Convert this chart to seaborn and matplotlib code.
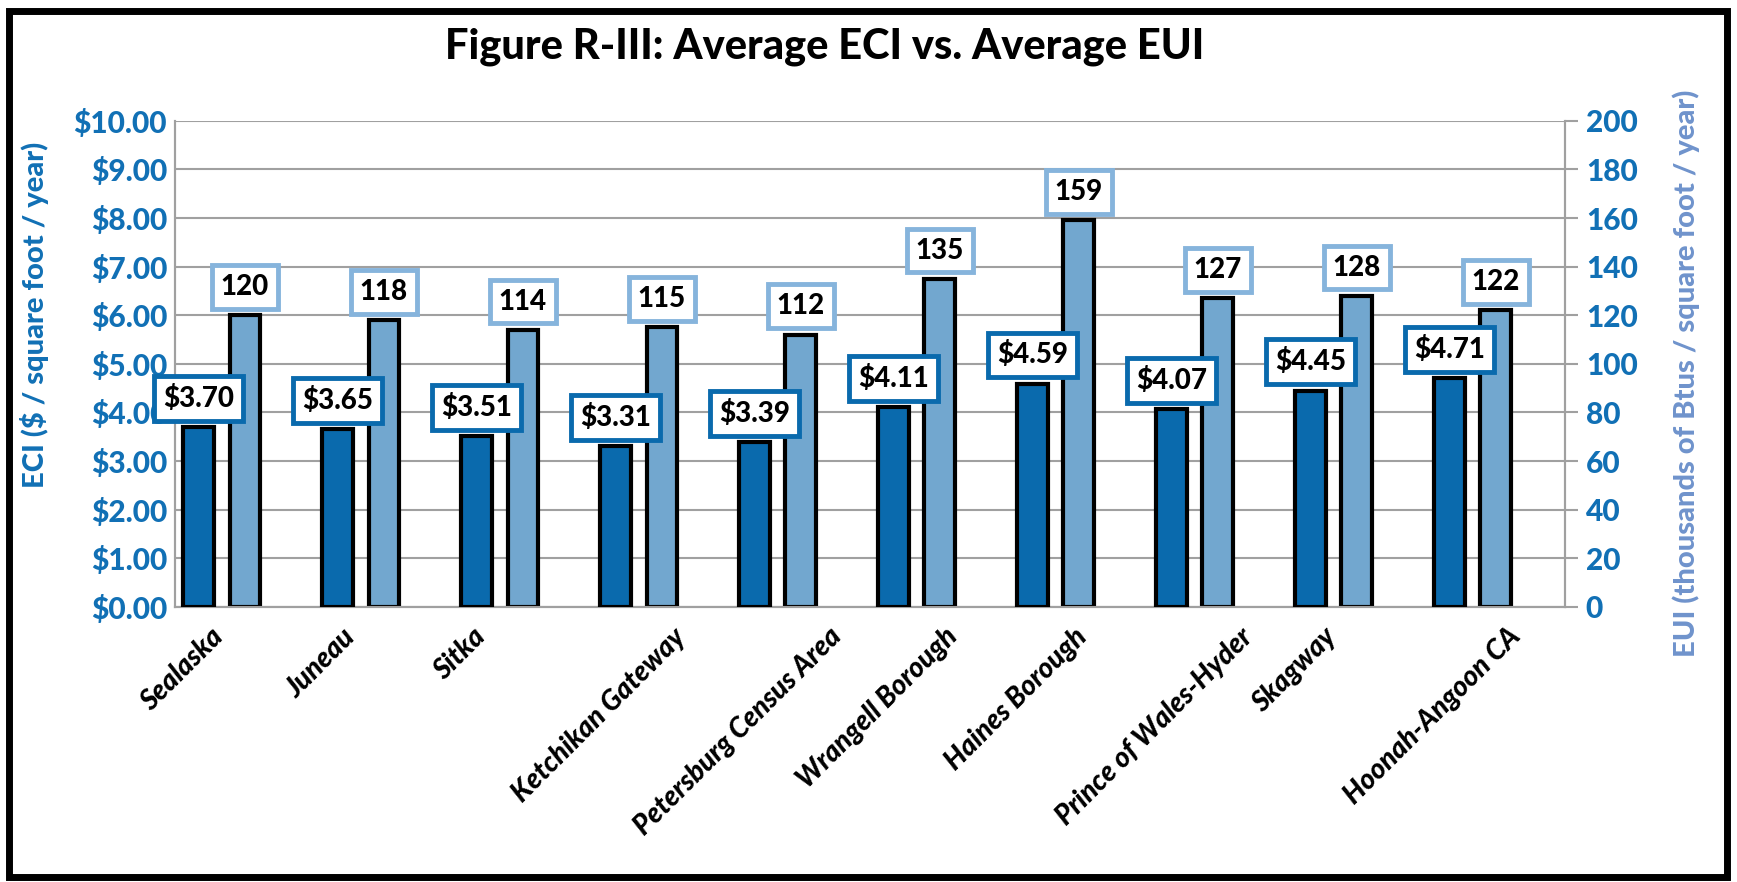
import numpy as np
import pandas as pd
import matplotlib
matplotlib.use("Agg")
import matplotlib.pyplot as plt
import seaborn as sns
from matplotlib.patches import Rectangle

# -----------------------
# Data
# -----------------------
areas = ["Sealaska", "Juneau", "Sitka", "Ketchikan Gateway", "Petersburg Census Area",
         "Wrangell Borough", "Haines Borough", "Prince of Wales-Hyder", "Skagway",
         "Hoonah-Angoon CA"]
eci = [3.70, 3.65, 3.51, 3.31, 3.39, 4.11, 4.59, 4.07, 4.45, 4.71]
eui = [120, 118, 114, 115, 112, 135, 159, 127, 128, 122]
eci_ticks = [0, 1, 2, 3, 4, 5, 6, 7, 8, 9, 10]
eui_ticks = [0, 20, 40, 60, 80, 100, 120, 140, 160, 180, 200]

dark_blue = "#0a6aad"
light_blue = "#72a7cf"
eci_text = "#1170b5"
eui_text = "#6f93cc"
hue_levels = ["ECI", "EUI", "blank"]
palette = {"ECI": dark_blue, "EUI": light_blue, "blank": "white"}

df_eci = pd.DataFrame({"area": areas, "value": eci, "series": "ECI"})
df_eui = pd.DataFrame({"area": areas, "value": eui, "series": "EUI"})


def full_container(ax):
    # seaborn may leave empty containers for hue levels with no data
    for c in ax.containers:
        if len(c) and all(p is not None for p in c):
            return c


sns.set_style("white")
plt.rcParams["font.family"] = "Lato"
plt.rcParams["text.color"] = "black"
W = 900  # heavy weight, closer to the bold Calibri look

fig = plt.figure(figsize=(17.37, 8.82), dpi=100)
ax1 = fig.add_axes([0.101, 0.312, 0.80, 0.551])   # ECI, left axis (drawn on top)
ax2 = ax1.twinx()                                  # EUI, right axis (drawn below)
ax1.set_zorder(ax2.get_zorder() + 1)
ax1.patch.set_visible(False)
ax2.patch.set_visible(True)
ax2.patch.set_facecolor("white")

sns.barplot(data=df_eci, x="area", y="value", hue="series", hue_order=hue_levels,
            palette=palette, saturation=1, dodge=True, width=1.0, gap=0.34,
            edgecolor="black", linewidth=3, legend=False, ax=ax1, zorder=3)
sns.barplot(data=df_eui, x="area", y="value", hue="series", hue_order=hue_levels,
            palette=palette, saturation=1, dodge=True, width=1.0, gap=0.34,
            edgecolor="black", linewidth=3, legend=False, ax=ax2, zorder=3)

# axes limits / ticks
ax1.set_ylim(0, 10)
ax2.set_ylim(0, 200)
ax1.set_xlim(-0.5, len(areas) - 0.5)
ax1.set_yticks(eci_ticks)
ax1.set_yticklabels([f"${v:.2f}" for v in eci_ticks], color=eci_text,
                    fontsize=21.5, fontweight=W)
ax2.set_yticks(eui_ticks)
ax2.set_yticklabels([str(v) for v in eui_ticks], color=eci_text,
                    fontsize=21.5, fontweight=W)

ax1.set_xticks(np.arange(len(areas)) - 0.45)
ax1.set_xticklabels(areas, rotation=45, ha="center", va="top", color="black",
                    fontsize=20, fontweight=W, style="italic")
ax1.tick_params(axis="x", length=0, pad=12)
ax1.tick_params(axis="y", length=0, pad=6)
ax2.tick_params(axis="y", length=9, width=1.5, color="#a0a0a0", pad=6)
ax2.tick_params(axis="x", length=0, labelbottom=False)

ax1.set_xlabel("")
ax2.set_xlabel("")
ax1.set_ylabel("ECI ($ / square foot / year)", color=eci_text, fontsize=21,
               fontweight=W)
ax2.set_ylabel("EUI (thousands of Btus / square foot / year)", color=eui_text,
               fontsize=21, fontweight=W)
ax1.yaxis.set_label_coords(-0.091, 0.60)
ax2.yaxis.set_label_coords(1.077, 0.48)

# gridlines live on the lower axes so they stay under the bars
ax2.grid(axis="y", color="#a0a0a0", linewidth=1.5)
ax2.grid(axis="x", visible=False)
ax2.set_axisbelow(True)
ax1.grid(False)
for ax in (ax1, ax2):
    ax.spines["top"].set_visible(False)
    for s in ("left", "right", "bottom"):
        ax.spines[s].set_color("#a0a0a0")
        ax.spines[s].set_linewidth(1.5)

# value labels
ax1.bar_label(full_container(ax1), labels=[f"${v:.2f}" for v in eci], padding=11,
              fontsize=20, fontweight=W, color="black",
              bbox=dict(boxstyle="square,pad=0.32", fc="white", ec=dark_blue, lw=3.5))
ax2.bar_label(full_container(ax2), labels=[str(v) for v in eui], padding=11,
              fontsize=20, fontweight=W, color="black",
              bbox=dict(boxstyle="square,pad=0.32", fc="white", ec="#86b4dc", lw=3.5))

fig.text(0.475, 0.947, "Figure R-III: Average ECI vs. Average EUI", ha="center",
         va="center", fontsize=30, fontweight=W, color="black")

fig.patches.append(Rectangle((0.005, 0.006), 0.989, 0.982, transform=fig.transFigure,
                             fill=False, lw=5, ec="black"))

plt.savefig("out.png", dpi=100)
plt.close()
